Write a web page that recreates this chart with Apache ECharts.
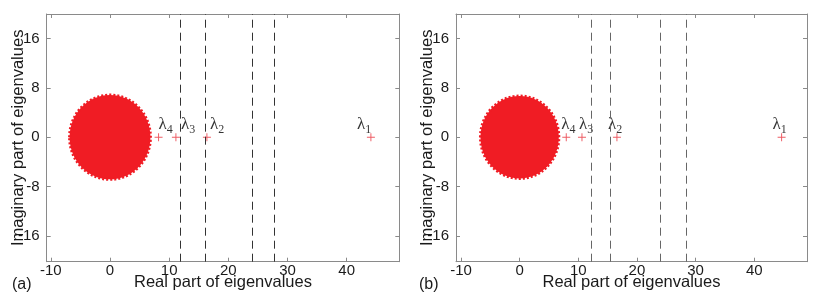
<!DOCTYPE html>
<html><head><meta charset="utf-8">
<script src="https://cdn.jsdelivr.net/npm/echarts@6/dist/echarts.min.js"></script>
<style>html,body{margin:0;padding:0;background:#fff}#c{width:822px;height:293px}</style>
</head><body><div id="c"></div>
<script>
// ---- data ----
const xTicks = [-10, 0, 10, 20, 30, 40];
const yTicks = [-16, -8, 0, 8, 16];
// bulk disc of eigenvalues: [centre real, centre imag, radius]
const discA = [0, 0, 7.0];
const discB = [0, 0, 6.85];
// isolated eigenvalues
const outReA = [44.1, 16.38, 11.14, 8.21];
const outImA = [0, 0, 0, 0];
const outReB = [44.67, 16.59, 10.63, 7.95];
const outImB = [0, 0, 0, 0];
const outSubs = ['1', '2', '3', '4'];
// dashed vertical thresholds
const dashA = [11.86, 16.09, 24.1, 27.76];
const dashB = [12.16, 15.45, 23.98, 28.41];
const xTitle = 'Real part of eigenvalues';
const yTitle = 'Imaginary part of eigenvalues';
const panelNames = ['(a)', '(b)'];

// ---- chart ----
const RED = '#f01c24';
const FRAME = '#8a8a8a';
const TXT = '#1a1a1a';
const SANS = 'Liberation Sans, Arial, sans-serif';
const SERIF = 'Liberation Serif, Times New Roman, serif';
const plusPath = 'path://M4.4,0H5.6V4.4H10V5.6H5.6V10H4.4V5.6H0V4.4H4.4Z';

const option = { animation: false, grid: [], xAxis: [], yAxis: [], series: [], graphic: [] };

function addPanel(i, grid, xmin, xmax, disc, re, im, dashes, labelOffsets, dashColor, panelLabelX) {
  option.grid.push(Object.assign({ outerBoundsMode: 'none', containLabel: false }, grid));
  const axisLine = { show: true, onZero: false, lineStyle: { color: FRAME, width: 1 } };
  const tick = { show: true, inside: true, length: 4, lineStyle: { color: FRAME } };
  option.xAxis.push({
    gridIndex: i, type: 'value', min: xmin, max: xmax, position: 'bottom',
    axisLine, axisTick: Object.assign({}, tick, { customValues: xTicks }),
    axisLabel: { customValues: xTicks, margin: 2, color: TXT, fontSize: 15, fontFamily: SANS },
    splitLine: { show: false },
    name: xTitle, nameLocation: 'middle', nameGap: 12, nameMoveOverlap: false,
    nameTextStyle: { fontSize: 16.5, color: TXT, fontFamily: SANS, verticalAlign: 'top' }
  });
  option.xAxis.push({
    gridIndex: i, type: 'value', min: xmin, max: xmax, position: 'top',
    axisLine, axisTick: Object.assign({}, tick, { customValues: xTicks }),
    axisLabel: { show: false }, splitLine: { show: false }
  });
  option.yAxis.push({
    gridIndex: i, type: 'value', min: -20.2, max: 20, position: 'left',
    axisLine, axisTick: Object.assign({}, tick, { customValues: yTicks }),
    axisLabel: { customValues: yTicks, margin: 7, color: TXT, fontSize: 15, fontFamily: SANS },
    splitLine: { show: false },
    name: yTitle, nameLocation: 'middle', nameGap: 20, nameMoveOverlap: false,
    nameTextStyle: { fontSize: 16.5, color: TXT, fontFamily: SANS }
  });
  option.yAxis.push({
    gridIndex: i, type: 'value', min: -20.2, max: 20, position: 'right',
    axisLine, axisTick: Object.assign({}, tick, { customValues: yTicks }),
    axisLabel: { show: false }, splitLine: { show: false }
  });
  const xi = 2 * i, yi = 2 * i;
  option.series.push({
    type: 'custom', xAxisIndex: xi, yAxisIndex: yi, coordinateSystem: 'cartesian2d',
    data: [disc], encode: { x: 0, y: 1 }, silent: true,
    renderItem: function (params, api) {
      const c = api.coord([api.value(0), api.value(1)]);
      const s = api.size([api.value(2), api.value(2)]);
      return {
        type: 'ellipse',
        shape: { cx: c[0], cy: c[1], rx: s[0] - 1, ry: s[1] - 1 },
        style: { fill: RED, stroke: RED, lineWidth: 3, lineDash: [2, 2] }
      };
    }
  });
  option.series.push({
    type: 'scatter', xAxisIndex: xi, yAxisIndex: yi,
    symbol: plusPath, symbolSize: 8,
    itemStyle: { color: '#e8323c' },
    data: re.map((r, k) => ({
      value: [r, im[k]],
      label: { formatter: '{l|λ}{s|' + outSubs[k] + '}', offset: labelOffsets[k] }
    })),
    label: {
      show: true, position: 'inside', align: 'left', verticalAlign: 'bottom',
      rich: {
        l: { fontFamily: SERIF, fontSize: 17, color: '#000', lineHeight: 17, verticalAlign: 'top' },
        s: { fontFamily: SERIF, fontSize: 12, color: '#000', padding: [8, 0, 0, 0], verticalAlign: 'top' }
      }
    },
    markLine: {
      silent: true, symbol: ['none', 'none'], label: { show: false },
      lineStyle: { type: [8, 5], color: dashColor, width: 1 },
      data: dashes.map(v => ({ xAxis: v }))
    }
  });
  option.graphic.push({
    type: 'text', left: panelLabelX, top: 277,
    style: { text: panelNames[i], fill: TXT, font: '16px ' + SANS }
  });
}

addPanel(0, { left: 46.7, top: 14, width: 352.6, height: 247.7 }, -10.7, 48.9,
  discA, outReA, outImA, dashA, [[-14, -1], [3, -1], [5, -1], [0, -1]], '#333', 12);
addPanel(1, { left: 456, top: 14, width: 351, height: 247.7 }, -10.85, 49.0,
  discB, outReB, outImB, dashB, [[-9, -1], [-9, -1], [-3, -1], [-5, -1]], '#666', 419);

const chart = echarts.init(document.getElementById('c'), null, { renderer: 'canvas' });
chart.setOption(option);
</script></body></html>
